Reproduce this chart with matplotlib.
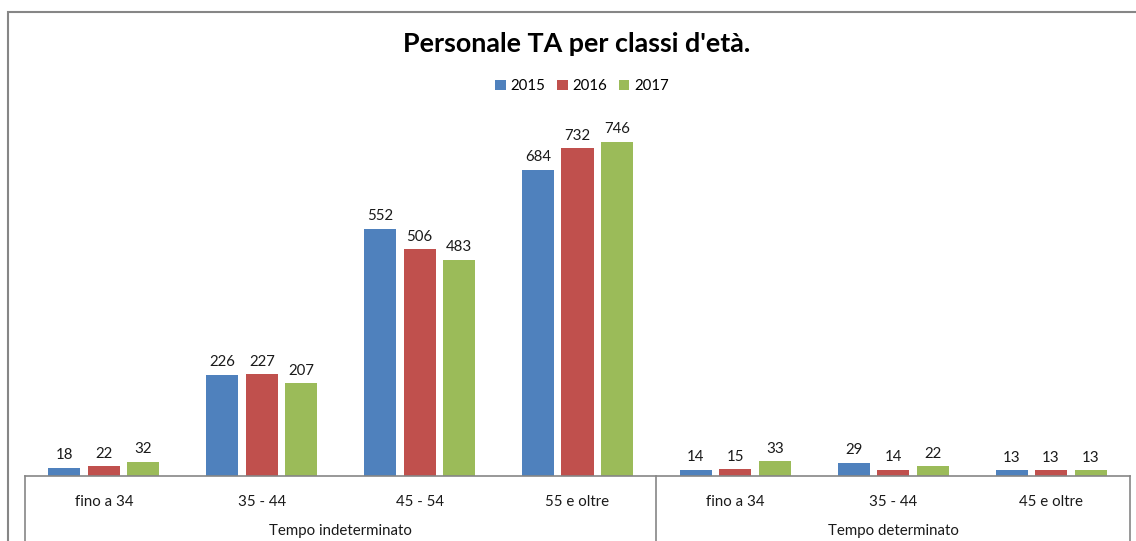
import numpy as np
import matplotlib
matplotlib.use("Agg")
import matplotlib.pyplot as plt
import matplotlib.transforms as mtransforms
from matplotlib.patches import Rectangle

# Data
categories = ["fino a 34", "35 - 44", "45 - 54", "55 e oltre",
              "fino a 34", "35 - 44", "45 e oltre"]
groups = ["Tempo indeterminato", "Tempo determinato"]
group_sizes = [4, 3]
years = ["2015", "2016", "2017"]
v2015 = [18, 226, 552, 684, 14, 29, 13]
v2016 = [22, 227, 506, 732, 15, 14, 13]
v2017 = [32, 207, 483, 746, 33, 22, 13]

colors = ["#4F81BD", "#C0504D", "#9BBB59"]
plt.rcParams['font.family'] = ['Lato', 'DejaVu Sans']

W, H = 1136, 541
fig = plt.figure(figsize=(W / 100, H / 100), dpi=100)

# plot area in pixel coords
left, right, base, top = 25, 1130, 476, 100
ax = fig.add_axes([left / W, (H - base) / H, (right - left) / W, (base - top) / H])

# outer chart border (runs off the right and bottom of the image)
fig.patches.append(Rectangle((7.5 / W, -0.1), 1.2, (H - 11.5) / H + 0.1,
                             transform=fig.transFigure, fill=False,
                             edgecolor="#868686", lw=1.5))

x = np.arange(len(categories))
bw = 0.203
off = 0.25
for i, (vals, yr) in enumerate(zip([v2015, v2016, v2017], years)):
    bars = ax.bar(x + (i - 1) * off, vals, bw, color=colors[i], label=yr)
    ax.bar_label(bars, padding=4, fontsize=10.8, color="#1a1a1a")

ax.set_xlim(-0.5, len(categories) - 0.5)
ax.set_ylim(0, (base - top) / ((base - 142) / 746))
ax.set_xticks([])
ax.set_yticks([])
for s in ["left", "right", "top"]:
    ax.spines[s].set_visible(False)
ax.spines["bottom"].set_color("#868686")
ax.spines["bottom"].set_linewidth(1.2)

trans = mtransforms.blended_transform_factory(ax.transData, ax.transAxes)
px = 1.0 / (base - top)

# first level labels
for xi, c in zip(x, categories):
    ax.text(xi, -(502 - base) * px, c, transform=trans, ha="center",
            va="center", fontsize=10.8, color="#1a1a1a")

# second level labels and separators
start = 0
bounds = [-0.5]
for g, n in zip(groups, group_sizes):
    mid = start + (n - 1) / 2
    ax.text(mid, -(531 - base) * px, g, transform=trans, ha="center",
            va="center", fontsize=10.8, color="#1a1a1a")
    start += n
    bounds.append(start - 0.5)
for b in bounds:
    ax.plot([b, b], [0, -0.3], transform=trans, color="#868686", lw=1.2,
            clip_on=False)

fig.text(577 / W, 1 - 44 / H, "Personale TA per classi d'età.",
         ha="center", va="center", fontsize=19.4, fontweight="bold")

fig.legend(loc="center", bbox_to_anchor=(582 / W, 1 - 86 / H), ncol=3,
           frameon=False, fontsize=10.8, handlelength=0.7, handleheight=0.7,
           handletextpad=0.3, columnspacing=0.8)

fig.savefig("out.png", dpi=100)
